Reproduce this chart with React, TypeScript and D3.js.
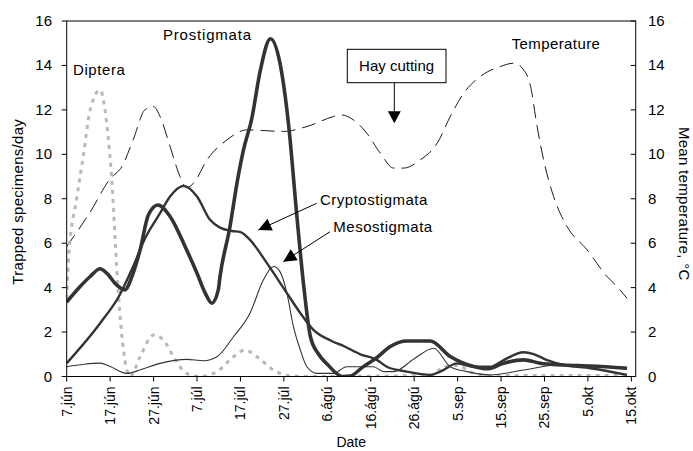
import React from "react";
import * as d3 from "d3";

// Days since 7 June
const xTickDays = [0, 10, 20, 30, 40, 50, 60, 70, 80, 90, 100, 110, 120, 130];
const xTickLabels = ["7.jún", "17.jún", "27.jún", "7.júl", "17.júl", "27.júl", "6.ágú", "16.ágú", "26.ágú", "5.sep", "15.sep", "25.sep", "5.okt", "15.okt"];
const yTicks = [0, 2, 4, 6, 8, 10, 12, 14, 16];

const prostigmata: [number, number][] = [
  [0, 3.35], [3.1, 4.05], [5.4, 4.5], [7.7, 4.85], [9.2, 4.65], [11.5, 4.12], [13.4, 3.9], [15.2, 4.6],
  [16.9, 5.7], [18.8, 7.27], [21, 7.72], [23.8, 7.2], [27.6, 5.7], [30, 4.65], [31.9, 3.75], [33.4, 3.3],
  [34.9, 3.9], [35.3, 4.5], [37.6, 6.75], [39.2, 8.7], [40.7, 10.2], [42.6, 11.6], [44.6, 13.8], [46.9, 15.2],
  [49.1, 14.1], [51.1, 11.3], [53, 7.2], [54.5, 4.2], [56.1, 1.8], [58, 1.0], [60, 0.55], [63.5, 0.0],
  [65.3, 0.02], [68, 0.4], [71.4, 0.85], [74.5, 1.35], [78.3, 1.6], [83.7, 1.6], [88.3, 0.9], [93.7, 0.45],
  [97, 0.35], [100.6, 0.6], [105.2, 0.75], [109, 0.6], [114.4, 0.52], [120.6, 0.47], [129, 0.37]
];
const cryptostigmata: [number, number][] = [
  [0, 0.6], [7.7, 2.4], [12, 3.6], [15.3, 4.95], [18, 6.2], [21.5, 7.35], [23.8, 8.1], [26.9, 8.58],
  [30, 8.1], [33, 7.05], [35.3, 6.7], [38, 6.55], [40, 6.5], [42.2, 6.15], [46.1, 5.1], [50.7, 3.75],
  [53.8, 2.85], [56.8, 2.1], [61, 1.6], [64, 1.35], [67.6, 1.0], [71.4, 0.75], [73.7, 0.44], [78.3, 0.22],
  [83.7, 0.07], [86, 0.22], [89.9, 0.59], [93.7, 0.44], [97.5, 0.44], [100.6, 0.74], [105.2, 1.09],
  [107.5, 1.01], [110.6, 0.74], [114.4, 0.52], [120.6, 0.37], [129, 0.07]
];
const mesostigmata: [number, number][] = [
  [0, 0.44], [4, 0.55], [7.7, 0.6], [10, 0.45], [13.8, 0.14], [17, 0.3], [21.5, 0.59], [27.6, 0.77],
  [31.5, 0.71], [34.6, 0.89], [38.4, 1.79], [42.2, 2.85], [45.3, 4.35], [47.6, 4.95], [49.1, 4.72],
  [50.7, 3.75], [52.2, 2.24], [53.8, 1.19], [55.3, 0.44], [57.6, 0.14], [61.4, 0.14], [64.5, 0.44],
  [70.6, 0.44], [73, 0.22], [75.3, 0.22], [80, 0.8], [84.5, 1.27], [88.3, 0.44], [92.2, 0.22],
  [97.5, 0.07], [105.2, 0.29], [112.9, 0.52], [120.6, 0.48], [129, 0.4]
];
const diptera: [number, number][] = [
  [0, 3.5], [0.5, 5.5], [2.3, 8], [3.8, 9.9], [5.4, 12.0], [7.7, 12.9], [9.2, 11.4], [10.5, 8.5],
  [11.5, 4.95], [12.3, 2.7], [13.4, 0.74], [14.6, 0], [16.9, 0.89], [20, 1.87], [22.3, 1.64], [24.6, 0.89],
  [27.6, 0.14], [30.7, 0], [34.6, 0.22], [38.4, 0.89], [41.1, 1.19], [43.8, 0.89], [47.6, 0.29],
  [50.7, 0.05], [55, 0], [84, 0.05], [87, 0.45], [90, 0.5], [93, 0.2], [97, 0.05], [129, 0.05]
];
const temperature: [number, number][] = [
  [0, 5.85], [5.4, 7.4], [10, 8.9], [12.7, 9.45], [15.3, 10.65], [18, 12.0], [20, 12.15], [21.5, 11.7],
  [23.8, 10.35], [26.1, 9.0], [27.6, 8.5], [29.2, 8.7], [32.3, 9.75], [36.9, 10.65], [41.5, 11.1],
  [49.9, 11.03], [55.3, 11.25], [61.4, 11.7], [63, 11.78], [66, 11.55], [69.1, 10.95], [72.2, 10.05],
  [75.3, 9.38], [77.6, 9.38], [81.4, 9.75], [85.3, 10.5], [88.3, 11.7], [91.4, 12.75], [95.2, 13.5],
  [99.8, 13.95], [102.9, 14.1], [105.2, 13.8], [106.8, 13.05], [108.3, 11.25], [109.8, 9.75], [112.1, 8.1],
  [115.2, 6.75], [119.8, 5.7], [124.4, 4.5], [126.7, 4.05], [129, 3.52]
];

const W = 693, H = 451;
const L = 66.7, R = 635.7, T = 21, B = 376.5;
const FONT = "'Liberation Sans', Arial, sans-serif";

function arrowHead(x1: number, y1: number, x2: number, y2: number, len = 12, half = 6) {
  const a = Math.atan2(y2 - y1, x2 - x1);
  const bx = x2 - len * Math.cos(a), by = y2 - len * Math.sin(a);
  const px = -Math.sin(a) * half, py = Math.cos(a) * half;
  return `${x2},${y2} ${bx + px},${by + py} ${bx - px},${by - py}`;
}

export default function App() {
  const x = d3.scaleLinear().domain([0, 131]).range([L, R]);
  const y = d3.scaleLinear().domain([0, 16]).range([B, T]);
  const yR = d3.scaleLinear().domain([0, 16]).range([B, T]);
  const line = d3.line<[number, number]>().x(d => x(d[0])).y(d => y(d[1])).curve(d3.curveMonotoneX);
  const lineR = d3.line<[number, number]>().x(d => x(d[0])).y(d => yR(d[1])).curve(d3.curveMonotoneX);

  const crypA = [316.7, 203.3, 258.3, 230];
  const mesoA = [330, 231.7, 283.3, 261.7];

  return (
    <svg width={W} height={H} style={{ position: "absolute", left: 0, top: 0, background: "#fff" }} fontFamily={FONT}>
      <rect width={W} height={H} fill="#fff" />
      <defs>
        <clipPath id="plot"><rect x={L} y={T - 5} width={R - L} height={B - T + 5} /></clipPath>
      </defs>
      <g clipPath="url(#plot)">
        <path d={lineR(temperature)!} fill="none" stroke="#000" strokeWidth={0.9} strokeDasharray="14,7" />
        <path d={line(diptera)!} fill="none" stroke="#b8b8b8" strokeWidth={3} strokeDasharray="4,5" />
        <path d={line(mesostigmata)!} fill="none" stroke="#333" strokeWidth={1.1} />
        <path d={line(cryptostigmata)!} fill="none" stroke="#333" strokeWidth={2.4} />
        <path d={line(prostigmata)!} fill="none" stroke="#333" strokeWidth={3.6} />
      </g>
      {/* frame */}
      <rect x={L} y={T} width={R - L} height={B - T} fill="none" stroke="#000" strokeWidth={1} />
      {/* left axis */}
      {yTicks.map(t => (
        <g key={"l" + t}>
          <line x1={L - 5} x2={L} y1={y(t)} y2={y(t)} stroke="#000" />
          <text x={52} y={y(t) + 5} textAnchor="end" fontSize={15}>{t}</text>
        </g>
      ))}
      {/* right axis */}
      {yTicks.map(t => (
        <g key={"r" + t}>
          <line x1={R - 5} x2={R} y1={yR(t)} y2={yR(t)} stroke="#000" />
          <text x={648} y={yR(t) + 5} textAnchor="start" fontSize={15}>{t}</text>
        </g>
      ))}
      {/* bottom axis */}
      {xTickDays.map((d, i) => (
        <g key={"x" + d}>
          <line x1={x(d)} x2={x(d)} y1={B} y2={B + 5} stroke="#000" />
          <text transform={`translate(${x(d) + 5},${B + 10}) rotate(-90)`} textAnchor="end" fontSize={14}>{xTickLabels[i]}</text>
        </g>
      ))}
      {/* axis titles */}
      <text transform={`translate(23,${(T + B) / 2 + 3}) rotate(-90)`} textAnchor="middle" fontSize={15} letterSpacing={0.3}>Trapped specimens/day</text>
      <text transform={`translate(679,${(T + B) / 2 + 5}) rotate(90)`} textAnchor="middle" fontSize={15} letterSpacing={0.3}>Mean temperature, °C</text>
      <text x={(L + R) / 2} y={447} textAnchor="middle" fontSize={14}>Date</text>
      {/* annotations */}
      <text x={73} y={75} fontSize={15} letterSpacing={0.6}>Diptera</text>
      <text x={163} y={40} fontSize={15} letterSpacing={0.8}>Prostigmata</text>
      <text x={511.7} y={49.3} fontSize={15} letterSpacing={0.4}>Temperature</text>
      <rect x={347.3} y={49.3} width={98.7} height={33.4} fill="#fff" stroke="#000" strokeWidth={1} />
      <text x={396.6} y={70.5} textAnchor="middle" fontSize={15}>Hay cutting</text>
      <line x1={394.3} y1={82.7} x2={394.3} y2={112} stroke="#000" strokeWidth={1} />
      <polygon points={arrowHead(394.3, 82.7, 394.3, 123.3, 12, 6.5)} fill="#000" />
      <text x={320} y={205} fontSize={15} letterSpacing={0.5}>Cryptostigmata</text>
      <line x1={crypA[0]} y1={crypA[1]} x2={crypA[2]} y2={crypA[3]} stroke="#000" strokeWidth={1} />
      <polygon points={arrowHead(crypA[0], crypA[1], crypA[2], crypA[3], 13, 6.5)} fill="#000" />
      <text x={333.3} y={232} fontSize={15} letterSpacing={0.5}>Mesostigmata</text>
      <line x1={mesoA[0]} y1={mesoA[1]} x2={mesoA[2]} y2={mesoA[3]} stroke="#000" strokeWidth={1} />
      <polygon points={arrowHead(mesoA[0], mesoA[1], mesoA[2], mesoA[3], 13, 6.5)} fill="#000" />
    </svg>
  );
}
